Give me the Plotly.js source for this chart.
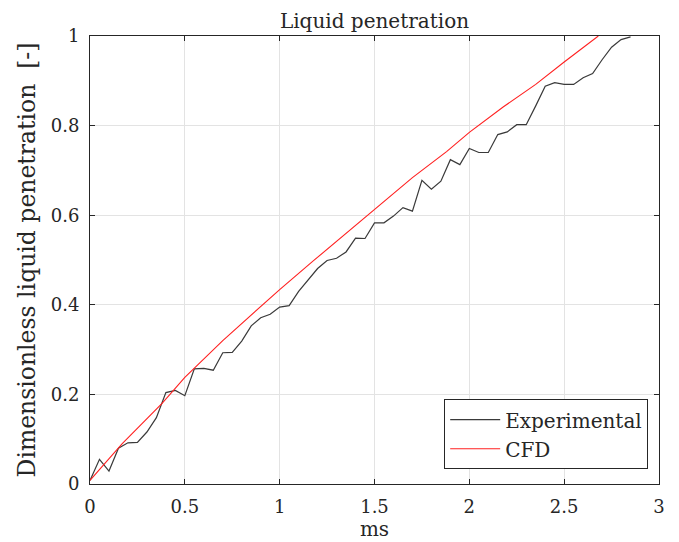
<!DOCTYPE html>
<html>
<head>
<meta charset="utf-8">
<script src="https://cdn.plot.ly/plotly-3.0.1.min.js"></script>
<style>
html,body{margin:0;padding:0;background:#fff;}
#chart{width:679px;height:542px;}
</style>
</head>
<body>
<div id="chart"></div>
<script>
// Experimental data (time in ms, dimensionless penetration)
var expTime = [0, 0.05, 0.10, 0.15, 0.20, 0.25, 0.30, 0.35, 0.40, 0.45,
  0.50, 0.55, 0.60, 0.65, 0.70, 0.75, 0.80, 0.85, 0.90, 0.95,
  1.00, 1.05, 1.10, 1.15, 1.20, 1.25, 1.30, 1.35, 1.40, 1.45,
  1.50, 1.55, 1.60, 1.65, 1.70, 1.75, 1.80, 1.85, 1.90, 1.95,
  2.00, 2.05, 2.10, 2.15, 2.20, 2.25, 2.30, 2.35, 2.40, 2.45,
  2.50, 2.55, 2.60, 2.65, 2.70, 2.75, 2.80, 2.85];
var expPen = [0.008, 0.055, 0.029, 0.080, 0.092, 0.093, 0.116, 0.148, 0.204, 0.209,
  0.197, 0.257, 0.258, 0.254, 0.293, 0.294, 0.319, 0.353, 0.371, 0.379,
  0.395, 0.398, 0.430, 0.455, 0.481, 0.499, 0.504, 0.518, 0.549, 0.548,
  0.583, 0.583, 0.598, 0.617, 0.609, 0.678, 0.658, 0.676, 0.724, 0.713,
  0.749, 0.740, 0.740, 0.780, 0.786, 0.802, 0.802, 0.844, 0.888, 0.896,
  0.892, 0.892, 0.907, 0.916, 0.947, 0.975, 0.992, 0.998];

// CFD data
var cfdTime = [0, 0.17, 0.38, 0.50, 0.70, 0.94, 1.00, 1.18, 1.35, 1.50, 1.70, 1.88, 2.00, 2.18, 2.35, 2.50, 2.68];
var cfdPen  = [0.008, 0.090, 0.180, 0.238, 0.320, 0.411, 0.434, 0.499, 0.559, 0.614, 0.684, 0.742, 0.785, 0.842, 0.892, 0.942, 1.000];

var xTicks = [0, 0.5, 1, 1.5, 2, 2.5, 3];
var yTicks = [0, 0.2, 0.4, 0.6, 0.8, 1];

var FONT = 'DejaVu Serif, Liberation Serif, serif';
var AX = '#262626';

var traces = [
  {x: expTime, y: expPen, type: 'scatter', mode: 'lines', name: 'Experimental',
   line: {color: '#3a3a3a', width: 1.2}},
  {x: cfdTime, y: cfdPen, type: 'scatter', mode: 'lines', name: 'CFD',
   line: {color: '#ff2020', width: 1.1}}
];

var axisCommon = {
  showline: true, mirror: 'ticks', linecolor: AX, linewidth: 1,
  ticks: 'inside', ticklen: 5, tickcolor: AX, tickwidth: 1,
  showgrid: true, gridcolor: '#e3e3e3', gridwidth: 1,
  zeroline: false,
  tickfont: {family: FONT, size: 18, color: AX}
};

var layout = {
  width: 679, height: 542,
  margin: {l: 90, r: 20, t: 36, b: 58},
  paper_bgcolor: '#fff', plot_bgcolor: '#fff',
  font: {family: FONT, color: AX},
  title: {text: 'Liquid penetration', font: {family: FONT, size: 20, color: AX},
          x: 0.5, xref: 'paper', y: 1, yref: 'paper', yanchor: 'bottom', pad: {b: 8}},
  xaxis: Object.assign({}, axisCommon, {
    range: [0, 3], tickvals: xTicks, ticktext: xTicks.map(String),
    ticklabelstandoff: 6,
    title: {text: 'ms', font: {family: FONT, size: 20, color: AX}, standoff: 6}
  }),
  yaxis: Object.assign({}, axisCommon, {
    range: [0, 1], tickvals: yTicks, ticktext: yTicks.map(String),
    ticklabelstandoff: 6,
    title: {text: 'Dimensionless liquid penetration  [-]', font: {family: FONT, size: 23.5, color: AX}, standoff: 8}
  }),
  showlegend: true,
  legend: {
    x: 0.981, y: 0.033, xanchor: 'right', yanchor: 'bottom',
    bgcolor: '#fff', bordercolor: AX, borderwidth: 1,
    font: {family: FONT, size: 20, color: AX},
    itemwidth: 50,
    tracegroupgap: 0
  }
};

Plotly.newPlot('chart', traces, layout, {displayModeBar: false, staticPlot: true});
</script>
</body>
</html>
